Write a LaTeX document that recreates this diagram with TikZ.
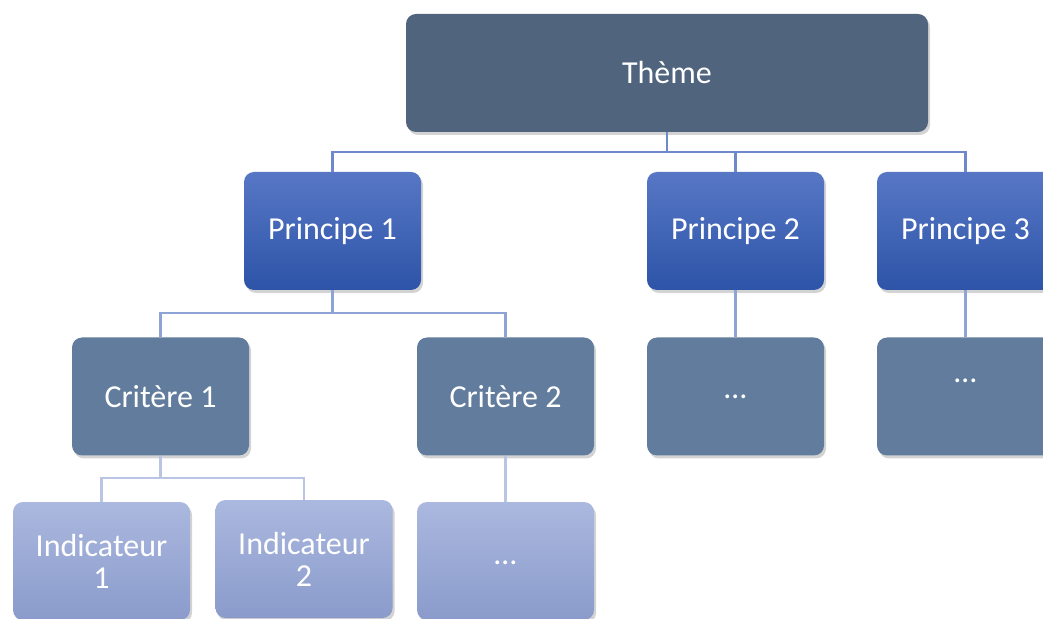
\documentclass[tikz,border=0pt]{standalone}
\usepackage{fontspec}
\setmainfont{Carlito}
\usetikzlibrary{shadows}

\definecolor{themefill}{HTML}{51647E}
\definecolor{printop}{HTML}{5777C5}
\definecolor{prinbot}{HTML}{2D54A8}
\definecolor{critfill}{HTML}{627C9D}
\definecolor{indtop}{HTML}{ABB8DF}
\definecolor{indbot}{HTML}{8A9BCB}
\definecolor{linkone}{HTML}{6E89C9}
\definecolor{linktwo}{HTML}{8EA3D6}
\definecolor{linkthree}{HTML}{BAC5E4}

\begin{document}
\begin{tikzpicture}[x=0.5pt,y=-0.5pt]
  \tikzstyle{box}=[rounded corners=5pt,minimum width=88.5pt,minimum height=59pt,align=center,text=white,
    font=\fontsize{16}{16}\selectfont,drop shadow={shadow xshift=1pt,shadow yshift=-1.5pt,opacity=0.35}]
  \tikzstyle{theme}=[box,fill=themefill,minimum width=261pt]
  \tikzstyle{principe}=[box,top color=printop,bottom color=prinbot]
  \tikzstyle{critere}=[box,fill=critfill]
  \tikzstyle{indic}=[box,top color=indtop,bottom color=indbot]
  \tikzstyle{link}=[line width=1.1pt]

  \useasboundingbox (0,0) rectangle (1043,619);
  \clip (0,0) rectangle (1043,619);

  % niveaux
  \node[theme] (theme) at (667,73) {Thème};
  \node[principe] (p1) at (332.5,231) {Principe 1};
  \node[principe] (p2) at (735.5,231) {Principe 2};
  \node[principe] (p3) at (965.5,231) {Principe 3};
  \node[critere] (c1) at (160.5,396.5) {Critère 1};
  \node[critere] (c2) at (505.5,396.5) {Critère 2};
  \node[critere] (d2) at (735.5,396.5) {\raisebox{-2.5pt}{…}};
  \node[critere,label={[anchor=north,text=white,font=\fontsize{16}{16}\selectfont,yshift=-17.5pt]north:…}] (d3) at (965.5,396.5) {};
  \node[indic] (i1) at (101.5,561) {Indicateur\\1};
  \node[indic] (i2) at (304,559) {Indicateur\\2};
  \node[indic] (i3) at (505.5,561) {\raisebox{-4pt}{…}};

  % liens
  \draw[link,linkone] (theme.south) -- ++(0,20) coordinate (busa);
  \draw[link,linkone] (busa) -| (p1.north);
  \draw[link,linkone] (busa) -| (p2.north);
  \draw[link,linkone] (busa) -| (p3.north);
  \draw[link,linktwo] (p1.south) -- ++(0,23) coordinate (busb);
  \draw[link,linktwo] (busb) -| (c1.north);
  \draw[link,linktwo] (busb) -| (c2.north);
  \draw[link,linktwo] (p2.south) -- (d2.north);
  \draw[link,linktwo] (p3.south) -- (d3.north);
  \draw[link,linkthree] (c1.south) -- ++(0,22) coordinate (busc);
  \draw[link,linkthree] (busc) -| (i1.north);
  \draw[link,linkthree] (busc) -| (i2.north);
  \draw[link,linkthree] (c2.south) -- (i3.north);
\end{tikzpicture}
\end{document}
